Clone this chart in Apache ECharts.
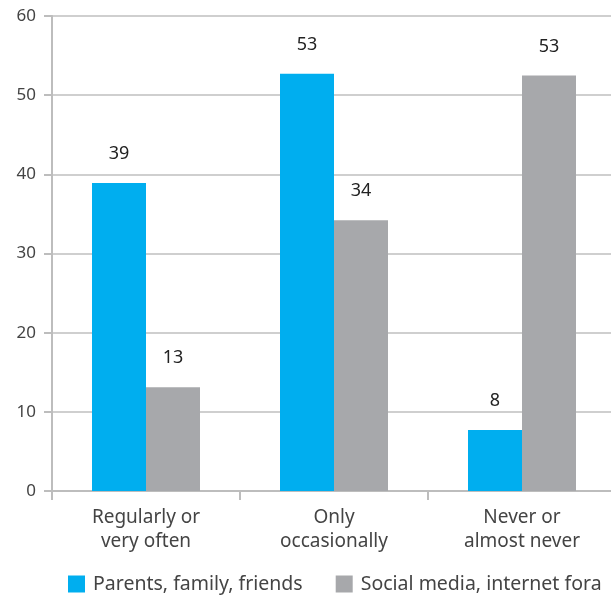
<!DOCTYPE html>
<html><head><meta charset="utf-8">
<script src="https://cdn.jsdelivr.net/npm/echarts@6/dist/echarts.min.js"></script>
<style>html,body{margin:0;padding:0;background:#fff;overflow:hidden}#c{width:616px;height:599px}</style>
</head><body><div id="c"></div>
<script>
const categories = ['Regularly or\nvery often', 'Only\noccasionally', 'Never or\nalmost never'];
const seriesNames = ['Parents, family, friends', 'Social media, internet fora'];
const parentsValues = [38.9, 52.7, 7.7];
const socialValues = [13.1, 34.2, 52.5];
const yTicks = [0, 10, 20, 30, 40, 50, 60];

const font = '"Noto Sans", sans-serif';
const chart = echarts.init(document.getElementById('c'));
const labelCfg = {
  show: true, position: 'top', distance: 20, color: '#222', fontSize: 18, fontFamily: font,
  formatter: p => Math.round(p.value)
};
chart.setOption({
  animation: false,
  grid: { left: 52, right: 0, top: 16, bottom: 108, containLabel: false },
  legend: {
    bottom: 0, left: 63, width: 560, itemWidth: 17, itemHeight: 17, itemGap: 33,
    icon: 'rect',
    textStyle: { fontSize: 19.5, color: '#444', fontFamily: font, padding: [0, 0, 0, 3] },
    data: seriesNames
  },
  xAxis: {
    type: 'category', data: categories,
    axisLine: { lineStyle: { color: '#bdbdbd', width: 2 } },
    axisTick: { show: true, length: 9, lineStyle: { color: '#bdbdbd', width: 2 } },
    axisLabel: { color: '#444', fontSize: 19, fontFamily: font, lineHeight: 24, margin: 15 }
  },
  yAxis: {
    type: 'value', min: yTicks[0], max: yTicks[yTicks.length - 1], interval: 10,
    axisLine: { show: true, lineStyle: { color: '#bdbdbd', width: 2 } },
    axisTick: { show: true, length: 8, lineStyle: { color: '#bdbdbd', width: 2 } },
    splitLine: { lineStyle: { color: '#cfcfcf', width: 2 } },
    axisLabel: { color: '#444', fontSize: 17, fontFamily: font, margin: 16 }
  },
  series: [
    { name: seriesNames[0], type: 'bar', data: parentsValues, barWidth: 54, barGap: '0%',
      itemStyle: { color: '#00AEEF' }, label: labelCfg },
    { name: seriesNames[1], type: 'bar', data: socialValues, barWidth: 54,
      itemStyle: { color: '#A7A8AB' }, label: labelCfg }
  ]
});
</script></body></html>
